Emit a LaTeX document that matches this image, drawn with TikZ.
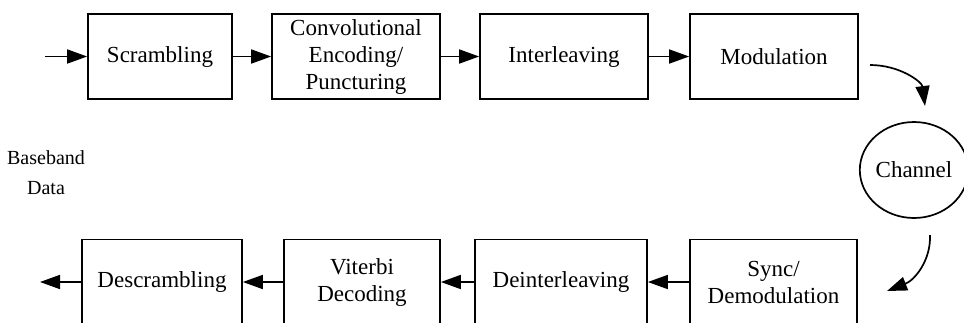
\documentclass[tikz,border=0pt]{standalone}
\usepackage{fontspec}
\setmainfont{Liberation Serif}
\usetikzlibrary{arrows.meta,shapes.geometric}
\begin{document}
\begin{tikzpicture}[x=1pt,y=-1pt,
  blk/.style={draw,line width=1.7pt,rectangle,minimum height=85pt,inner sep=0pt,align=center,
    font=\fontsize{23}{27}\selectfont},
  arr/.style={line width=1.7pt,-{Triangle[length=20pt,width=14pt]}},
  lbl/.style={align=center,font=\fontsize{20}{30}\selectfont}]
\useasboundingbox (0,0) rectangle (964,322);
% top row
\node[blk,minimum width=144pt] (scr) at (160,56.5) {Scrambling};
\node[blk,minimum width=168pt] (conv) at (356,56.5) {Convolutional\\Encoding/\\Puncturing};
\node[blk,minimum width=168pt] (intl) at (564,56.5) {Interleaving};
\node[blk,minimum width=168pt] (mod) at (774,56.5) {Modulation};
% bottom row
\node[blk,minimum width=160pt] (descr) at (162,282) {Descrambling};
\node[blk,minimum width=156pt] (vit) at (362,282) {Viterbi\\Decoding};
\node[blk,minimum width=172pt] (deint) at (561,282) {Deinterleaving};
\node[blk,minimum width=167pt] (sync) at (773.5,282) {Sync/\\Demodulation};
% channel
\node[draw,line width=1.7pt,ellipse,minimum width=98pt,minimum height=96pt,inner sep=0pt,
  font=\fontsize{23}{27}\selectfont] (ch) at (914,170) {Channel};
% label
\node[lbl] (bb) at (46,173) {Baseband\\Data};
% coordinates
\coordinate (in) at (45,56.5);
\coordinate (out) at (40,282);
\coordinate (c1) at (870,65);
\coordinate (c2) at (925,106);
\coordinate (c3) at (930,235);
\coordinate (c4) at (887,291);
% arrows
\draw[arr] (in) -- (scr.west);
\draw[arr] (scr.east) -- (conv.west);
\draw[arr] (conv.east) -- (intl.west);
\draw[arr] (intl.east) -- (mod.west);
\draw[arr] (c1) .. controls (900,65) and (922,82) .. (c2);
\draw[arr] (c3) .. controls (931,260) and (915,280) .. (c4);
\draw[arr] (sync.west) -- (deint.east);
\draw[arr] (deint.west) -- (vit.east);
\draw[arr] (vit.west) -- (descr.east);
\draw[arr] (descr.west) -- (out);
\end{tikzpicture}
\end{document}
